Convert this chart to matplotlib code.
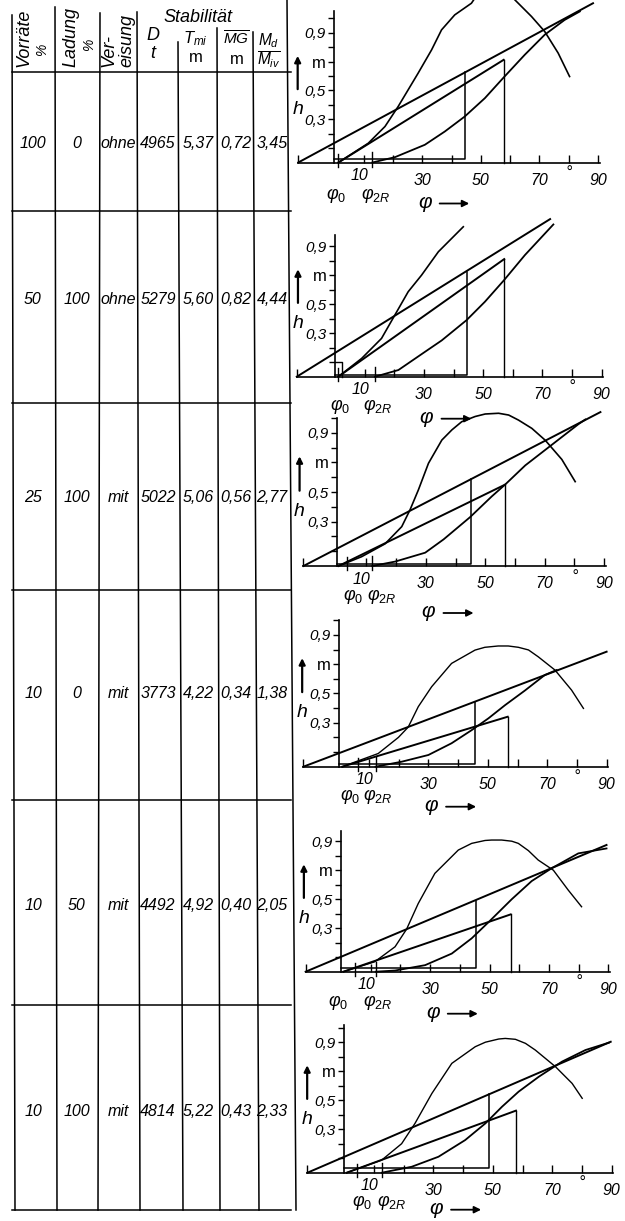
import numpy as np
import matplotlib
matplotlib.use("Agg")
import matplotlib.pyplot as plt

plt.rcParams['font.family'] = ['Liberation Sans', 'DejaVu Sans']
plt.rcParams['mathtext.fontset'] = 'custom'
plt.rcParams['mathtext.rm'] = 'Liberation Sans'
plt.rcParams['mathtext.it'] = 'Liberation Sans:italic'
plt.rcParams['mathtext.bf'] = 'Liberation Sans:bold'

# ---- table values ----
vorraete = [100, 50, 25, 10, 10, 10]
ladung = [0, 100, 100, 0, 50, 100]
vereisung = ["ohne", "ohne", "mit", "mit", "mit", "mit"]
deplacement = [4965, 5279, 5022, 3773, 4492, 4814]
tiefgang = [5.37, 5.60, 5.06, 4.22, 4.92, 5.22]
mg = [0.72, 0.82, 0.56, 0.34, 0.40, 0.43]
md_miv = [3.45, 4.44, 2.77, 1.38, 2.05, 2.33]

# ---- diagram curves (phi in degrees, h in m) ----
upper_phi = [[-12.3, 88.3], [-12.9, 72.6], [-11.2, 88.8],
             [-12.1, 90.0], [-11.9, 89.4], [-12.4, 89.7]]
upper_h = [[0, 1.106], [0, 1.087], [0, 1.04],
           [0, 0.785], [0, 0.874], [0, 0.903]]

mid_phi = [[1.4, 57.8], [1.1, 57.1], [0.6, 56.7],
           [1.0, 56.7], [0.8, 57.1], [0.8, 57.8]]
mid_h = [[0, 0.713], [0, 0.811], [0, 0.55],
         [0, 0.341], [0, 0.395], [0, 0.428]]

rect_phi = [44.5, 44.4, 45.3, 45.7, 45.3, 48.8]
rect_h = [0.63, 0.72, 0.59, 0.44, 0.49, 0.54]

dyn_phi = [
    [13, 20.7, 30.9, 37.7, 44.5, 51.4, 57.6, 65, 71.8, 78.6, 83.8],
    [13.5, 21.4, 30.4, 36, 44.4, 50.6, 57.1, 64.1, 73.7],
    [12, 19.7, 29.8, 36, 44.9, 52.2, 56.7, 63.5, 72.5, 81.5, 83.7],
    [12.2, 21, 30, 37.8, 44.6, 50.2, 55.8, 62.5, 69.2, 73.2],
    [11.7, 18.2, 28.3, 37.3, 44, 49.6, 57.5, 64.2, 70.9, 79.9, 89.4],
    [12.6, 22.7, 31.7, 40.7, 47.5, 53.1, 58.7, 65.5, 73.3, 81.2, 89.1],
]
dyn_h = [
    [0, 0.037, 0.123, 0.215, 0.319, 0.447, 0.586, 0.748, 0.887, 0.99, 1.049],
    [0, 0.046, 0.172, 0.25, 0.39, 0.517, 0.667, 0.839, 1.05],
    [0, 0.03, 0.09, 0.18, 0.33, 0.47, 0.55, 0.68, 0.82, 0.96, 0.99],
    [0, 0.034, 0.08, 0.16, 0.25, 0.33, 0.42, 0.52, 0.626, 0.66],
    [0, 0.008, 0.045, 0.125, 0.23, 0.34, 0.5, 0.625, 0.713, 0.816, 0.85],
    [0, 0.041, 0.11, 0.225, 0.34, 0.455, 0.559, 0.662, 0.766, 0.846, 0.897],
]

gz_phi = [
    [1.4, 11.6, 17.3, 21.8, 28.6, 33.2, 36.6, 41.1, 46.8, 47.6,
     np.nan, 61.6, 67.3, 71.8, 76.4, 80.3],
    [1.1, 9, 15.7, 20.2, 24.7, 29.2, 34.9, 43.3],
    [0.6, 8.4, 16.3, 21.9, 24.7, 27.5, 30.9, 35.4, 38.8, 42.1, 46.6, 50, 54.5,
     57.9, 61.2, 65.7, 70.2, 75.8, 80.3],
    [1.0, 13.1, 19.9, 23.2, 26.6, 31.1, 37.8, 45.7, 49, 53.5, 56.9, 60.3, 63.7,
     67, 72.6, 78.2, 82.2],
    [0.8, 11.4, 18.2, 22.1, 26, 31.6, 39.5, 44, 48.5, 50.7, 54.1, 57.5, 59.7,
     63.1, 66.4, 71.5, 76.5, 81],
    [0.8, 12.6, 19.3, 23.8, 29.5, 36.2, 44.1, 47.5, 52, 54.2, 57.6, 61, 64.3,
     71.1, 76.7, 80.1],
]
gz_h = [
    [0, 0.134, 0.25, 0.389, 0.62, 0.782, 0.921, 1.025, 1.106, 1.13,
     np.nan, 1.13, 1.014, 0.91, 0.76, 0.597],
    [0, 0.126, 0.264, 0.425, 0.586, 0.70, 0.862, 1.034],
    [0, 0.063, 0.15, 0.266, 0.38, 0.514, 0.694, 0.851, 0.92, 0.975, 1.01, 1.027,
     1.032, 1.02, 0.986, 0.93, 0.85, 0.72, 0.57],
    [0, 0.09, 0.2, 0.27, 0.41, 0.546, 0.705, 0.796, 0.815, 0.824, 0.824, 0.815,
     0.797, 0.75, 0.66, 0.523, 0.398],
    [0, 0.069, 0.172, 0.294, 0.47, 0.678, 0.839, 0.885, 0.905, 0.908, 0.908,
     0.9, 0.885, 0.835, 0.77, 0.70, 0.563, 0.448],
    [0, 0.087, 0.2, 0.34, 0.547, 0.754, 0.869, 0.9, 0.922, 0.926, 0.92, 0.892,
     0.846, 0.731, 0.616, 0.513],
]

phi0_mark = [1.4, 1.1, 3.5, 6.2, 4.7, 4.2]
phi2r_mark = [13, 13.5, 12, 12.2, 11.7, 12.6]
# small box at the origin (only drawn in the second diagram)
box_phi = [None, 2.5, None, None, None, None]
box_h = [None, 0.1, None, None, None, None]

# ---- layout (pixels) ----
W, H = 625, 1221
diag_x0 = [334.3, 335, 336.7, 339.3, 341, 344.3]
diag_y0 = [162.5, 376.7, 566, 766.7, 971.7, 1172.7]
diag_sx = [2.93, 2.963, 2.97, 2.97, 2.97, 2.97]
diag_sy = [144, 145, 148, 146.5, 145, 145]
diag_ytop = [1.05, 0.98, 1.0, 1.0, 0.97, 1.02]
rect_base = [0.023, 0.012, 0.014, 0.018, 0.023, 0.03]
phi0_lab_x = [0.5, 1.7, 5.5, 3.6, -1, 6]
phi2r_lab_x = [14, 14.5, 15, 13, 12.5, 16]
phi_lab_dy = [33, 30, 31, 30, 31, 30]
arrow_dy = [41, 42, 47, 40, 42, 37]

col_top = [12, 55, 100, 137, 178, 217, 253, 287]
col_bot = [15, 57, 98, 140, 183, 220, 259, 296]
col_start = [15, 7, 13, 12, 42, 28, 32, 0]
row_lines = [72, 211, 403, 590, 800, 1005, 1210]
row_text_y = [143, 300, 497, 693, 905, 1112]
text_x = [33, 77, 118, 158, 198, 236, 272]

fig = plt.figure(figsize=(W / 100, H / 100), dpi=100, facecolor='white')

# ---- table ----
tab = fig.add_axes([0, 0, 1, 1])
tab.set_xlim(0, W)
tab.set_ylim(H, 0)
tab.axis('off')

for xt, xb, ys in zip(col_top, col_bot, col_start):
    tab.plot([xt, xb], [ys, row_lines[-1]], color='k', lw=1.1)
for y in row_lines:
    tab.plot([12, 291], [y, y], color='k', lw=1.1)

hk = dict(style='italic', fontsize=13, color='k')
tab.text(24, 38, "Vorräte", rotation=90, ha='center', va='center', **hk)
tab.text(42, 50, "%", rotation=90, ha='center', va='center', style='italic', fontsize=10)
tab.text(71, 37, "Ladung", rotation=90, ha='center', va='center', **hk)
tab.text(89, 45, "%", rotation=90, ha='center', va='center', style='italic', fontsize=10)
tab.text(109, 67, "Ver-", rotation=90, ha='center', va='bottom', **hk)
tab.text(127, 67, "eisung", rotation=90, ha='center', va='bottom', **hk)
tab.text(198, 17, "Stabilität", ha='center', va='center', **hk)
tab.text(153, 35, "D", ha='center', va='center', **hk)
tab.text(153, 54, "t", ha='center', va='center', **hk)
tab.text(195, 39, r"$T_{mi}$", ha='center', va='center', fontsize=12)
tab.text(196, 58, "m", ha='center', va='center', fontsize=12)
tab.text(236, 39, r"$\overline{MG}$", ha='center', va='center', fontsize=11)
tab.text(237, 59, "m", ha='center', va='center', fontsize=12)
tab.text(269, 51, r"$\frac{M_d}{M_{iv}}$", ha='center', va='center', fontsize=16)

bk = dict(style='italic', fontsize=11.5, ha='center', va='center', color='k')
for i in range(6):
    y = row_text_y[i]
    vals = [str(vorraete[i]), str(ladung[i]), vereisung[i], str(deplacement[i]),
            f"{tiefgang[i]:.2f}".replace('.', ','),
            f"{mg[i]:.2f}".replace('.', ','),
            f"{md_miv[i]:.2f}".replace('.', ',')]
    for x, v in zip(text_x, vals):
        tab.text(x, y, v, **bk)

# ---- diagrams ----
xmin, xmax, ymin, ymax = -16, 96, -0.4, 1.2
for i in range(6):
    x0, y0, sx, sy = diag_x0[i], diag_y0[i], diag_sx[i], diag_sy[i]
    ax = fig.add_axes([(x0 + xmin * sx) / W, 1 - (y0 - ymin * sy) / H,
                       (xmax - xmin) * sx / W, (ymax - ymin) * sy / H])
    ax.set_xlim(xmin, xmax)
    ax.set_ylim(ymin, ymax)
    ax.patch.set_visible(False)
    ax.spines['top'].set_visible(False)
    ax.spines['right'].set_visible(False)
    ax.spines['left'].set_position(('data', 0))
    ax.spines['bottom'].set_position(('data', 0))
    ax.spines['left'].set_bounds(0, diag_ytop[i])
    ax.spines['bottom'].set_bounds(upper_phi[i][0], 90.6)
    for s in ['left', 'bottom']:
        ax.spines[s].set_linewidth(1.2)
    ax.set_xticks([upper_phi[i][0]] + list(range(10, 100, 10)))
    ax.set_xticklabels([])
    ax.tick_params(axis='x', direction='in', length=6, width=1.0)
    yt = np.round(np.arange(0.1, diag_ytop[i] + 0.001, 0.1), 1)
    ax.set_yticks(yt)
    ylab = {0.3: "0,3", 0.5: "0,5", 0.7: "m", 0.9: "0,9"}
    ax.set_yticklabels([ylab.get(v, "") for v in yt], style='italic', fontsize=11)
    ax.tick_params(axis='y', direction='out', length=4, width=1.0, pad=2)
    for lab in ax.get_yticklabels():
        if lab.get_text() == "m":
            lab.set_fontstyle('normal')
            lab.set_fontsize(12)

    # construction lines and curves
    ax.plot(upper_phi[i], upper_h[i], color='k', lw=1.4)
    ax.plot(mid_phi[i], mid_h[i], color='k', lw=1.4)
    ax.plot([mid_phi[i][1], mid_phi[i][1]], [0, mid_h[i][1]], color='k', lw=1.0)
    ax.plot([0, rect_phi[i], rect_phi[i]], [rect_base[i], rect_base[i], rect_h[i]],
            color='k', lw=1.1)
    ax.plot(dyn_phi[i], dyn_h[i], color='k', lw=1.3)
    ax.plot(gz_phi[i], gz_h[i], color='k', lw=1.0 if i > 2 else 1.2)
    ax.plot([phi0_mark[i]] * 2, [-0.03, 0.06], color='k', lw=1.0)
    ax.plot([phi2r_mark[i]] * 2, [-0.03, 0.07], color='k', lw=1.0)
    if box_phi[i] is not None:
        ax.plot([0, box_phi[i], box_phi[i]], [box_h[i], box_h[i], 0],
                color='k', lw=1.0)

    # labels
    tk = dict(style='italic', fontsize=11.5, ha='center', va='center')
    ax.text(8.5, -13 / sy, "10", **tk)
    for v in (30, 50, 70, 90):
        ax.text(v, -18 / sy, str(v), **tk)
    ax.text(80, -11 / sy, "°", **tk)
    ax.text(phi0_lab_x[i], -phi_lab_dy[i] / sy, r"$\varphi_0$",
            ha='center', va='center', fontsize=13)
    ax.text(phi2r_lab_x[i], -phi_lab_dy[i] / sy, r"$\varphi_{2R}$",
            ha='center', va='center', fontsize=13)
    ax.text(31, -arrow_dy[i] / sy, r"$\varphi$", ha='center', va='center', fontsize=15)
    ax.annotate("", xy=(47, -arrow_dy[i] / sy), xytext=(35, -arrow_dy[i] / sy),
                arrowprops=dict(arrowstyle='-|>', color='k', lw=1.3, mutation_scale=10))
    ax.annotate("", xy=(-12.5, 0.76), xytext=(-12.5, 0.49),
                arrowprops=dict(arrowstyle='-|>', color='k', lw=1.6, mutation_scale=9))
    ax.text(-12.5, 0.37, "h", style='italic', fontsize=14, ha='center', va='center')

fig.savefig("out.png", dpi=100, facecolor='white')
